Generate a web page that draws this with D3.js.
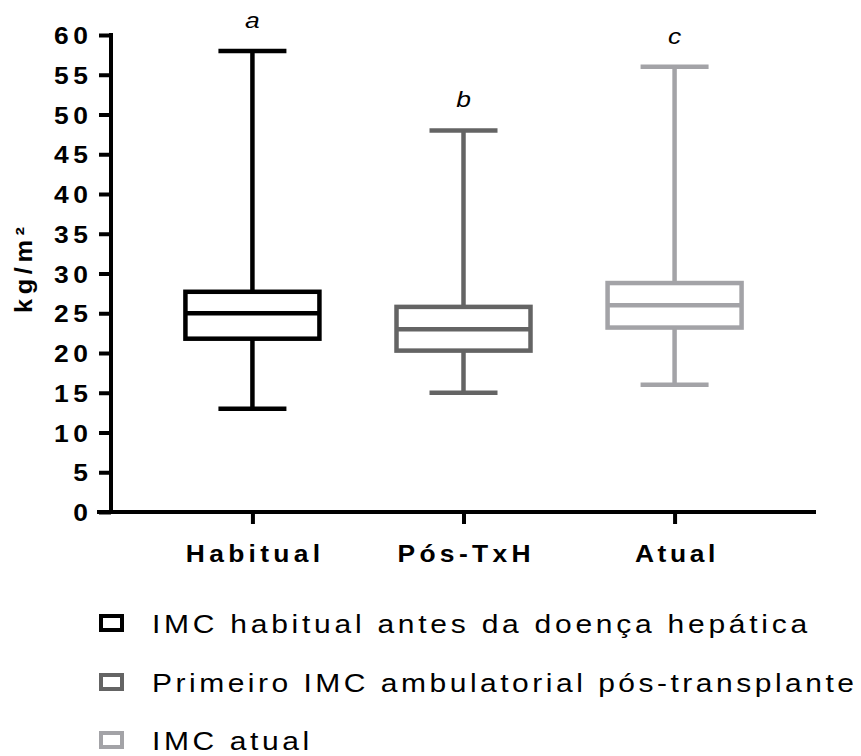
<!DOCTYPE html>
<html>
<head>
<meta charset="utf-8">
<script src="https://d3js.org/d3.v7.min.js"></script>
<style>
  body { margin: 0; background: #fff; }
  text { font-family: Arial, "Liberation Sans", sans-serif; }
</style>
</head>
<body>
<div id="chart"></div>
<script>
var categories = ["Habitual", "Pós-TxH", "Atual"];
var mins = [13, 15, 16];
var q1s = [21.8, 20.3, 23.2];
var medians = [25, 23, 26];
var q3s = [27.7, 25.8, 28.8];
var maxs = [58, 48, 56];
var letters = ["a", "b", "c"];
var colors = ["#000000", "#646464", "#a3a3a7"];
var yTicks = [0, 5, 10, 15, 20, 25, 30, 35, 40, 45, 50, 55, 60];
var legendLabels = [
    "IMC habitual antes da doença hepática",
    "Primeiro IMC ambulatorial pós-transplante",
    "IMC atual"
];
var xLabelLengths = [122, 121, 73];
var legendLengths = [546, 585, 131];

var W = 861, H = 756;
var SX = 1.2; // glyphs look horizontally stretched in the original
var SXB = 1.1;

var svg = d3.select('#chart')
    .append('svg')
    .attr('width', W)
    .attr('height', H);

var y = d3.scaleLinear().domain([0, 60]).range([512, 35]);
var x = d3.scalePoint().domain(categories).range([111, 816]).padding(0.67);
var boxW = 134, capW = 68;

var boxes = categories.map(function (c, i) {
    return {cat: c, min: mins[i], q1: q1s[i], med: medians[i], q3: q3s[i], max: maxs[i], letter: letters[i], color: colors[i]};
});

// axes
var yAxis = svg.append('g')
    .attr('transform', 'translate(111,0)')
    .call(d3.axisLeft(y).tickValues(yTicks).tickSize(12).tickFormat(''));
var xAxis = svg.append('g')
    .attr('transform', 'translate(0,512)')
    .call(d3.axisBottom(x).tickSize(12).tickFormat(''));
svg.selectAll('.domain, .tick line')
    .attr('stroke', '#000')
    .attr('stroke-width', 4);
yAxis.select('.domain').attr('d', 'M0,33V514');
xAxis.select('.domain').attr('d', 'M97,0H816');

yAxis.selectAll('.tick')
    .append('text')
    .attr('transform', 'translate(-23,8.5) scale(' + SXB + ',1)')
    .attr('text-anchor', 'end')
    .attr('fill', '#000')
    .style('font-size', '24px')
    .style('font-weight', 'bold')
    .each(function (d) {
        if (String(d).length > 1) d3.select(this).attr('textLength', 31).attr('lengthAdjust', 'spacing');
    })
    .text(function (d) { return d; });

xAxis.selectAll('.tick')
    .append('text')
    .attr('transform', 'translate(0,50) scale(' + SXB + ',1)')
    .attr('text-anchor', 'middle')
    .attr('fill', '#000')
    .style('font-size', '24px')
    .style('font-weight', 'bold')
    .attr('textLength', function (d, i) { return xLabelLengths[i]; })
    .attr('lengthAdjust', 'spacing')
    .text(function (d) { return d; });

svg.append('text')
    .attr('transform', 'translate(32,270) rotate(-90) scale(' + SXB + ',1)')
    .attr('text-anchor', 'middle')
    .style('font-size', '23px')
    .style('font-weight', 'bold')
    .attr('textLength', 78)
    .attr('lengthAdjust', 'spacing')
    .text('kg/m²');

// box plots
var g = svg.selectAll('g.box')
    .data(boxes)
    .enter()
    .append('g')
    .attr('class', 'box')
    .attr('transform', function (d) { return 'translate(' + x(d.cat) + ',0)'; })
    .attr('stroke', function (d) { return d.color; })
    .attr('stroke-width', 4.5)
    .attr('fill', 'none');

g.append('line')
    .attr('x1', 0).attr('x2', 0)
    .attr('y1', function (d) { return y(d.max); })
    .attr('y2', function (d) { return y(d.q3); });
g.append('line')
    .attr('x1', 0).attr('x2', 0)
    .attr('y1', function (d) { return y(d.q1); })
    .attr('y2', function (d) { return y(d.min); });
g.append('line')
    .attr('x1', -capW / 2).attr('x2', capW / 2)
    .attr('y1', function (d) { return y(d.max); })
    .attr('y2', function (d) { return y(d.max); });
g.append('line')
    .attr('x1', -capW / 2).attr('x2', capW / 2)
    .attr('y1', function (d) { return y(d.min); })
    .attr('y2', function (d) { return y(d.min); });
g.append('rect')
    .attr('x', -boxW / 2)
    .attr('width', boxW)
    .attr('y', function (d) { return y(d.q3); })
    .attr('height', function (d) { return y(d.q1) - y(d.q3); });
g.append('line')
    .attr('x1', -boxW / 2).attr('x2', boxW / 2)
    .attr('y1', function (d) { return y(d.med); })
    .attr('y2', function (d) { return y(d.med); });

g.append('text')
    .attr('stroke', 'none')
    .attr('fill', '#000')
    .attr('text-anchor', 'middle')
    .attr('transform', function (d) { return 'translate(0,' + (y(d.max) - 23) + ') scale(' + SX + ',1)'; })
    .style('font-size', '22px')
    .style('font-style', 'italic')
    .text(function (d) { return d.letter; });

// legend
var legendY = [633, 692, 750];
var leg = svg.selectAll('g.legend')
    .data(legendLabels)
    .enter()
    .append('g')
    .attr('class', 'legend')
    .attr('transform', function (d, i) { return 'translate(0,' + legendY[i] + ')'; });

leg.append('rect')
    .attr('x', 101)
    .attr('y', -17)
    .attr('width', 21)
    .attr('height', 14)
    .attr('fill', 'none')
    .attr('stroke', function (d, i) { return colors[i]; })
    .attr('stroke-width', 4);

leg.append('text')
    .attr('transform', 'translate(152,0) scale(' + SX + ',1)')
    .style('font-size', '25px')
    .attr('fill', '#000')
    .attr('textLength', function (d, i) { return legendLengths[i]; })
    .attr('lengthAdjust', 'spacing')
    .text(function (d) { return d; });
</script>
</body>
</html>
